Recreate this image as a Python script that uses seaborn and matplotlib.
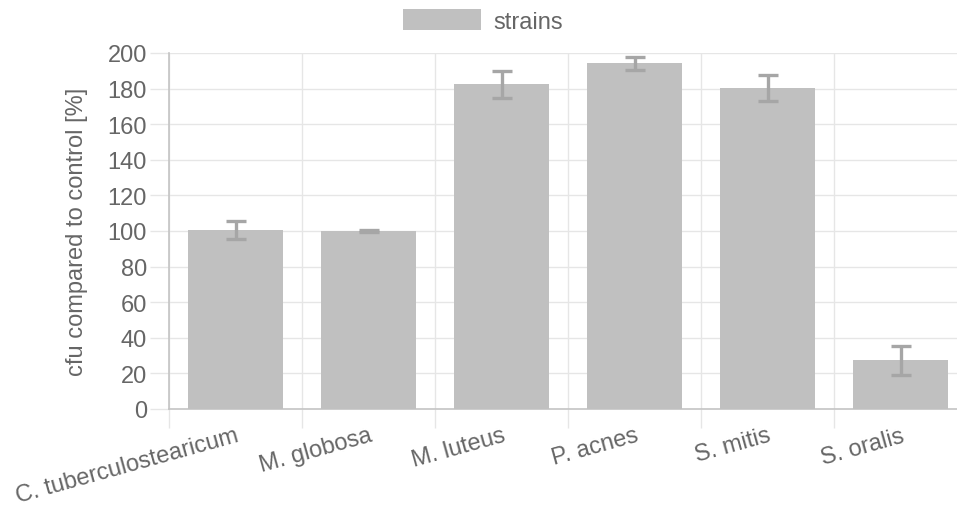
import numpy as np
import pandas as pd
import matplotlib
matplotlib.use("Agg")
import matplotlib.pyplot as plt
import seaborn as sns
from matplotlib.patches import Patch

# Bacterial strains and their colony-forming units relative to control
strains = ["C. tuberculostearicum", "M. globosa", "M. luteus",
           "P. acnes", "S. mitis", "S. oralis"]
cfu_percent = [100.5, 100.0, 182.5, 194.3, 180.4, 27.3]
cfu_error = [5.0, 0.5, 7.5, 3.7, 7.5, 8.0]
y_ticks = [0, 20, 40, 60, 80, 100, 120, 140, 160, 180, 200]
series_name = "strains"

BAR = "#c0c0c0"
ERR = "#a6a6a6"
TEXT = "#666666"
GRID = "#e6e6e6"
AXIS = "#c4c4c4"
FS = 17

sns.set_theme(style="white")
plt.rcParams["font.family"] = ["Liberation Sans", "DejaVu Sans"]

df = pd.DataFrame({"strain": strains, "cfu": cfu_percent})

W, H = 957, 506
fig = plt.figure(figsize=(W / 100, H / 100), dpi=100)
left, right, top, bottom = 169, 967, 54, 410
ax = fig.add_axes([left / W, 1 - bottom / H, (right - left) / W, (bottom - top) / H])

sns.barplot(data=df, x="strain", y="cfu", color=BAR, saturation=1,
            width=0.72, errorbar=None, ax=ax, zorder=3, edgecolor="none")
ax.errorbar(np.arange(len(strains)), cfu_percent, yerr=cfu_error, fmt="none",
            ecolor=ERR, elinewidth=2.4, capsize=7.2, capthick=2.4, zorder=4)

ax.set_xlim(-0.5, len(strains) - 0.5)
ax.set_ylim(0, 200)
ax.set_yticks(y_ticks)
ax.set_yticklabels([str(t) for t in y_ticks])

# horizontal grid with tick marks extending left of the axis
ax.yaxis.grid(True, color=GRID, linewidth=1, zorder=0)
ax.tick_params(axis="y", which="major", length=14, width=1, color=GRID,
               pad=2, labelsize=FS, labelcolor=TEXT, left=True)
ax.get_yticklines()[0].set_color(AXIS)

# vertical grid at category boundaries, extending below the axis
ax.set_xticks(np.arange(-0.5, len(strains), 1.0), minor=True)
ax.xaxis.grid(True, which="minor", color=GRID, linewidth=1, zorder=0)
ax.xaxis.grid(False, which="major")
ax.tick_params(axis="x", which="minor", length=14, width=1, color=GRID,
               bottom=True)
ax.xaxis.get_minor_ticks()[0].tick1line.set_color(AXIS)
ax.tick_params(axis="x", which="major", length=0, pad=11, labelsize=FS,
               labelcolor=TEXT)
for lbl in ax.get_xticklabels():
    lbl.set_rotation(15.5)
    lbl.set_ha("right")
    lbl.set_va("top")
    lbl.set_rotation_mode("anchor")

for side in ["top", "right"]:
    ax.spines[side].set_visible(False)
ax.spines["left"].set_color(AXIS)
ax.spines["bottom"].set_color(AXIS)
ax.spines["left"].set_linewidth(1.2)
ax.spines["bottom"].set_linewidth(1.2)

ax.set_xlabel("")
ax.set_ylabel("cfu compared to control [%]", fontsize=FS, color=TEXT)
ax.yaxis.set_label_coords((77 - left) / (right - left), 0.5)
ax.yaxis.label.set_va("center")

fig.legend(handles=[Patch(facecolor=BAR, edgecolor="none", label=series_name)],
           loc="center", bbox_to_anchor=(483 / W, 1 - 22 / H), frameon=False,
           fontsize=FS, labelcolor=TEXT, handlelength=3.3, handleheight=1.0,
           handletextpad=0.5, borderpad=0)

fig.savefig("out.png", dpi=100)
